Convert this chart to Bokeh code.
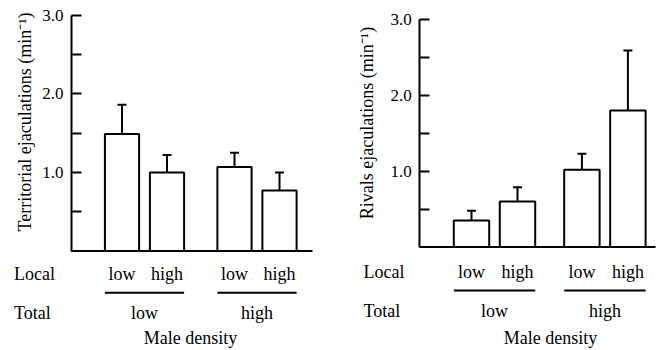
import math
from bokeh.plotting import figure
from bokeh.models import (Range1d, FixedTicker, PrintfTickFormatter, ColumnDataSource,
                          Whisker, TeeHead)
from bokeh.layouts import row
from bokeh.embed import file_html
from bokeh.resources import INLINE
from bokeh.core.properties import value

# ---- data ----
local_levels = ["low", "high"]
total_levels = ["low", "high"]
row_labels = ["Local", "Total"]
x_title = "Male density"

territorial_label = "Territorial ejaculations (min\u207b\u00b9)"
territorial_mean = [1.49, 1.00, 1.07, 0.77]
territorial_se = [0.37, 0.22, 0.18, 0.23]

rivals_label = "Rivals ejaculations (min\u207b\u00b9)"
rivals_mean = [0.35, 0.60, 1.02, 1.80]
rivals_se = [0.13, 0.19, 0.21, 0.79]

y_ticks = [1.0, 2.0, 3.0]
y_minor = [0.5, 1.5, 2.5]

FONT = "Liberation Serif"
TXT = "18px"


def panel(means, ses, ylabel, c):
    W, H = 330, 350
    unit = c["unit"]
    xpx = c["xpx"]

    def dx(px):  # canvas px -> data x
        return (px - c["first_px"]) / xpx

    def dy(px):  # canvas px -> data y
        return (c["zero_px"] - px) / unit

    p = figure(width=W, height=H, x_range=Range1d(dx(0), dx(W)),
               y_range=Range1d(dy(H), dy(0)),
               output_backend="svg", toolbar_location=None, title=None,
               x_axis_location=None, min_border=0, min_border_left=0,
               min_border_right=0, min_border_top=0, min_border_bottom=0)
    p.grid.visible = False
    p.outline_line_color = None
    p.background_fill_color = "white"
    p.border_fill_color = "white"

    ax = p.yaxis[0]
    ax.fixed_location = dx(c["axis_px"])
    ax.bounds = (0, 3)
    ax.ticker = FixedTicker(ticks=y_ticks, minor_ticks=y_minor)
    ax.formatter = PrintfTickFormatter(format="%.1f")
    ax.major_tick_in = 10
    ax.major_tick_out = 0
    ax.minor_tick_in = 10
    ax.minor_tick_out = 0
    ax.axis_line_width = 2
    ax.major_tick_line_width = 2
    ax.minor_tick_line_width = 2
    ax.axis_line_color = "black"
    ax.major_tick_line_color = "black"
    ax.minor_tick_line_color = "black"
    ax.major_label_text_font = FONT
    ax.major_label_text_font_size = "17px"
    ax.major_label_text_color = "black"
    ax.major_label_standoff = 8

    # y-axis title (rotated), placed precisely
    p.text(x=[dx(c["ylab_px"])], y=[dy(c["ylab_py"])], text=[ylabel], angle=math.pi / 2,
           text_font=value(FONT), text_font_size=TXT, text_align="center",
           text_baseline="middle", text_color="black")

    step = c["step"]
    xs = [g * step + l for g in range(len(total_levels)) for l in range(len(local_levels))]
    bw = c["bw"]

    p.vbar(x=xs, top=means, bottom=0, width=bw, fill_color="white",
           line_color="black", line_width=2)

    src = ColumnDataSource(dict(x=xs, lower=means, upper=[m + s for m, s in zip(means, ses)]))
    p.add_layout(Whisker(source=src, base="x", lower="lower", upper="upper",
                         line_color="black", line_width=2, lower_head=None,
                         upper_head=TeeHead(size=9, line_color="black", line_width=2),
                         level="overlay"))

    # baseline (x axis line)
    p.segment(x0=[dx(c["axis_px"])], y0=[0], x1=[dx(c["end_px"])], y1=[0],
              line_color="black", line_width=2)

    shift = c["text_shift"]

    # local labels
    p.text(x=xs, y=[dy(c["local_py"] - shift)] * len(xs),
           text=[local_levels[l] for g in range(len(total_levels)) for l in range(len(local_levels))],
           text_font=value(FONT), text_font_size=TXT, text_align="center",
           text_baseline="alphabetic", text_color="black")

    # group underlines
    gx0 = [g * step - bw / 2 for g in range(len(total_levels))]
    gx1 = [g * step + (len(local_levels) - 1) + bw / 2 for g in range(len(total_levels))]
    p.segment(x0=gx0, y0=[dy(c["line_py"])] * 2, x1=gx1, y1=[dy(c["line_py"])] * 2,
              line_color="black", line_width=2)

    # total labels
    p.text(x=[g * step + (len(local_levels) - 1) / 2 for g in range(len(total_levels))],
           y=[dy(c["total_py"] - shift)] * len(total_levels), text=total_levels,
           text_font=value(FONT), text_font_size=TXT, text_align="center",
           text_baseline="alphabetic", text_color="black")

    # row labels
    p.text(x=[dx(c["row_px"])] * len(row_labels),
           y=[dy(c["local_py"] - shift), dy(c["total_py"] - shift)], text=row_labels,
           text_font=value(FONT), text_font_size=TXT, text_align="left",
           text_baseline="alphabetic", text_color="black")

    # x title
    p.text(x=[dx(c["title_px"])], y=[dy(c["title_py"] - shift)], text=[x_title],
           text_font=value(FONT), text_font_size=TXT, text_align="center",
           text_baseline="alphabetic", text_color="black")
    return p


left_cfg = dict(axis_px=71, first_px=121.5, zero_px=250.5, unit=78.6, xpx=45, step=2.5,
                end_px=312, bw=0.76, ylab_px=24, ylab_py=121.5, row_px=13.5, title_px=190,
                local_py=277.7, line_py=292.3, total_py=316.7, title_py=341.7, text_shift=4)
right_cfg = dict(axis_px=89.3, first_px=141, zero_px=246.6, unit=75.87, xpx=46, step=2.4,
                 end_px=325, bw=0.77, ylab_px=36, ylab_py=122.5, row_px=33, title_px=220,
                 local_py=275.7, line_py=290, total_py=314, title_py=341.7, text_shift=4)

p1 = panel(territorial_mean, territorial_se, territorial_label, left_cfg)
p2 = panel(rivals_mean, rivals_se, rivals_label, right_cfg)
layout = row(p1, p2)

open("out.html", "w").write(file_html(layout, INLINE))
